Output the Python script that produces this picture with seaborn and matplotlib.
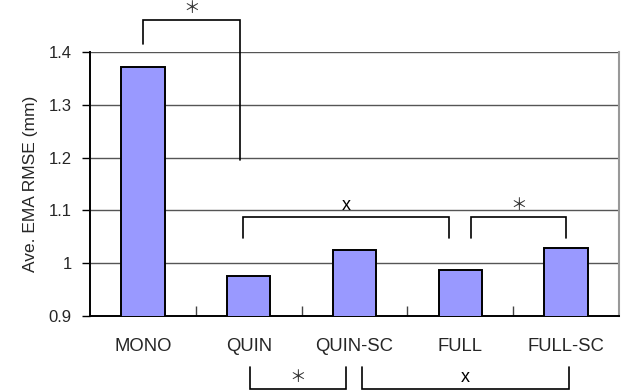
import matplotlib
matplotlib.use("Agg")
import matplotlib.pyplot as plt
import seaborn as sns
import pandas as pd

# Average EMA RMSE per condition
conditions = ["MONO", "QUIN", "QUIN-SC", "FULL", "FULL-SC"]
rmse = [1.372, 0.976, 1.025, 0.987, 1.028]

# Significance brackets: (x_start, x_end, y_left_end, y_right_end, y_bar, label)
brackets = [
    (0.0, 0.92, 1.415, 1.195, 1.461, "＊"),
    (0.95, 2.89, 1.048, 1.048, 1.0875, "x"),
    (3.10, 4.00, 1.048, 1.048, 1.0875, "＊"),
    (1.01, 1.92, 0.803, 0.803, 0.762, "＊"),
    (2.07, 4.03, 0.803, 0.803, 0.762, "x"),
]

sns.set_theme(style="white")
plt.rcParams["font.family"] = ["Liberation Sans", "DejaVu Sans"]

df = pd.DataFrame({"condition": conditions, "rmse": rmse})

fig = plt.figure(figsize=(6.36, 3.92), dpi=100)
ax = fig.add_axes([90 / 636, 1 - 316 / 392, 529 / 636, 264 / 392])

sns.barplot(data=df, x="condition", y="rmse", color="#9999FF", width=0.41,
            edgecolor="black", linewidth=1.4, saturation=1, ax=ax, zorder=3)
for p in ax.patches:
    p.set_facecolor("#9999FF")

ax.set_ylim(0.9, 1.4)
ax.set_xlim(-0.5, 4.5)
ax.set_yticks([0.9, 1.0, 1.1, 1.2, 1.3, 1.4])
ax.set_yticklabels(["0.9", "1", "1.1", "1.2", "1.3", "1.4"])
ax.yaxis.grid(True, color="#555555", linewidth=1.0)
ax.set_axisbelow(True)

ax.set_xlabel("")
ax.set_ylabel("Ave. EMA RMSE (mm)", fontsize=12.5, labelpad=8)

ax.tick_params(axis="y", which="major", direction="out", length=6, width=1,
               color="black", labelsize=12, pad=7, left=True)
ax.tick_params(axis="x", which="major", length=0, labelsize=13.3, pad=16)
ax.set_xticks([0.5, 1.5, 2.5, 3.5], minor=True)
ax.tick_params(axis="x", which="minor", direction="in", length=7, width=1,
               color="#444444", bottom=True)

for side in ["left", "bottom"]:
    ax.spines[side].set_color("black")
    ax.spines[side].set_linewidth(1.4)
ax.spines["right"].set_color("#999999")
ax.spines["right"].set_linewidth(1.5)
ax.spines["top"].set_visible(False)

for x0, x1, y0, y1, yb, label in brackets:
    ax.plot([x0, x0, x1, x1], [y0, yb, yb, y1], color="black", lw=1.2,
            clip_on=False, zorder=5, solid_joinstyle="miter")
    if label == "x":
        ax.text((x0 + x1) / 2, yb + 0.0138, label, ha="center", va="baseline",
                fontsize=13, color="black", clip_on=False, zorder=6)
    else:
        ax.text((x0 + x1) / 2, yb + 0.021, label, ha="center", va="center",
                fontsize=12, family=["Noto Sans CJK JP", "DejaVu Sans"],
                color="#333333", clip_on=False, zorder=6)

fig.savefig("out.png", dpi=100)
